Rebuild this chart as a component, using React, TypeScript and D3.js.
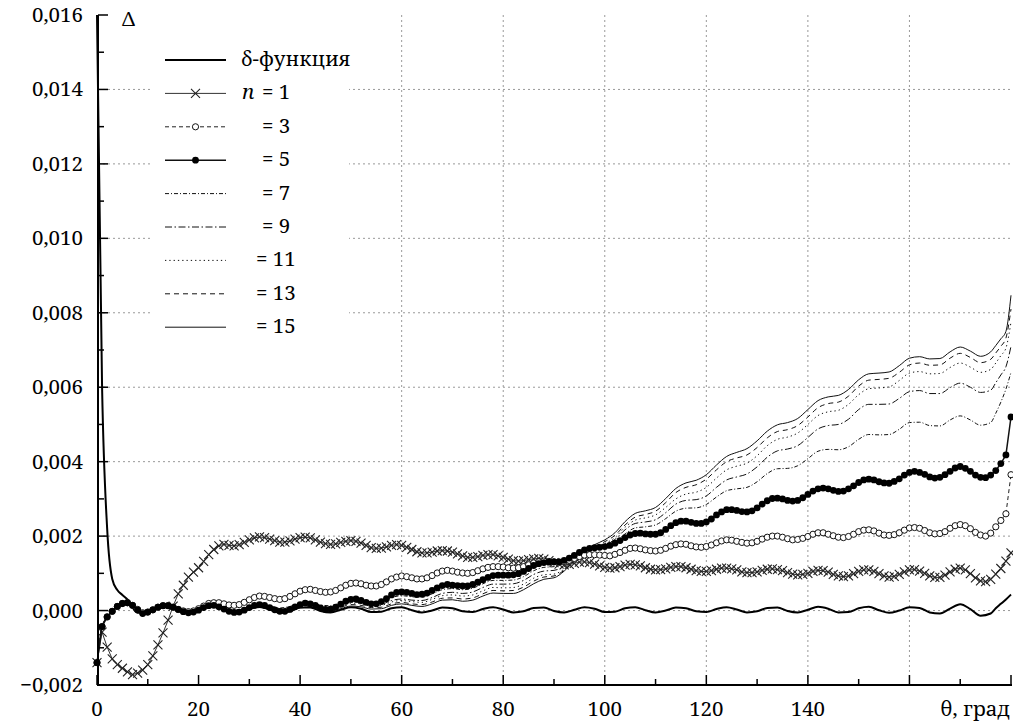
import React from 'react'
import * as d3 from 'd3'

const width = 1013
const height = 727

// θ in degrees, one point per degree (series drawn with markers)
const thetaFine = [
  0, 1, 2, 3, 4, 5, 6, 7, 8, 9, 10, 11, 12, 13, 14, 15, 16, 17, 18, 19,
  20, 21, 22, 23, 24, 25, 26, 27, 28, 29, 30, 31, 32, 33, 34, 35, 36, 37, 38, 39,
  40, 41, 42, 43, 44, 45, 46, 47, 48, 49, 50, 51, 52, 53, 54, 55, 56, 57, 58, 59,
  60, 61, 62, 63, 64, 65, 66, 67, 68, 69, 70, 71, 72, 73, 74, 75, 76, 77, 78, 79,
  80, 81, 82, 83, 84, 85, 86, 87, 88, 89, 90, 91, 92, 93, 94, 95, 96, 97, 98, 99,
  100, 101, 102, 103, 104, 105, 106, 107, 108, 109, 110, 111, 112, 113, 114, 115, 116, 117, 118, 119,
  120, 121, 122, 123, 124, 125, 126, 127, 128, 129, 130, 131, 132, 133, 134, 135, 136, 137, 138, 139,
  140, 141, 142, 143, 144, 145, 146, 147, 148, 149, 150, 151, 152, 153, 154, 155, 156, 157, 158, 159,
  160, 161, 162, 163, 164, 165, 166, 167, 168, 169, 170, 171, 172, 173, 174, 175, 176, 177, 178, 179,
  180,
]

// Δ values in units of 0.001
const n1 = [
  -1.40, -0.58, -0.98, -1.30, -1.45, -1.55, -1.65, -1.72, -1.68, -1.60, -1.45, -1.22, -0.92, -0.60, -0.26, 0.12, 0.45, 0.68, 0.90, 1.03,
  1.15, 1.32, 1.50, 1.64, 1.74, 1.78, 1.75, 1.74, 1.77, 1.83, 1.90, 1.95, 1.98, 1.96, 1.92, 1.88, 1.84, 1.84, 1.87, 1.92,
  1.96, 1.97, 1.95, 1.90, 1.84, 1.80, 1.78, 1.79, 1.83, 1.86, 1.88, 1.86, 1.81, 1.75, 1.69, 1.67, 1.68, 1.71, 1.75, 1.77,
  1.75, 1.70, 1.64, 1.58, 1.55, 1.55, 1.57, 1.60, 1.61, 1.60, 1.57, 1.52, 1.47, 1.43, 1.43, 1.45, 1.48, 1.50, 1.50, 1.47,
  1.43, 1.38, 1.34, 1.33, 1.34, 1.37, 1.39, 1.40, 1.38, 1.34, 1.29, 1.25, 1.23, 1.24, 1.27, 1.30, 1.31, 1.29, 1.25, 1.20,
  1.16, 1.14, 1.15, 1.18, 1.22, 1.24, 1.23, 1.20, 1.15, 1.11, 1.09, 1.10, 1.12, 1.16, 1.18, 1.18, 1.15, 1.11, 1.07, 1.05,
  1.05, 1.07, 1.11, 1.14, 1.14, 1.12, 1.09, 1.04, 1.02, 1.02, 1.04, 1.08, 1.11, 1.12, 1.10, 1.07, 1.02, 0.98, 0.96, 0.97,
  1.00, 1.05, 1.08, 1.07, 1.03, 0.97, 0.93, 0.91, 0.93, 0.99, 1.05, 1.09, 1.09, 1.05, 0.99, 0.93, 0.90, 0.92, 0.97, 1.04,
  1.09, 1.10, 1.06, 1.00, 0.93, 0.89, 0.89, 0.95, 1.04, 1.11, 1.14, 1.09, 0.99, 0.88, 0.80, 0.78, 0.84, 0.98, 1.13, 1.33,
  1.55,
]

const n3 = [
  -1.40, -0.43, -0.17, -0.02, 0.11, 0.19, 0.21, 0.14, 0.03, -0.06, -0.04, 0.02, 0.09, 0.13, 0.13, 0.09, 0.03, -0.01, -0.03, -0.01,
  0.05, 0.12, 0.19, 0.21, 0.21, 0.18, 0.15, 0.14, 0.16, 0.22, 0.29, 0.35, 0.39, 0.38, 0.35, 0.32, 0.30, 0.32, 0.38, 0.45,
  0.52, 0.56, 0.57, 0.54, 0.51, 0.49, 0.50, 0.54, 0.61, 0.68, 0.73, 0.74, 0.72, 0.68, 0.66, 0.66, 0.70, 0.77, 0.85, 0.90,
  0.93, 0.91, 0.88, 0.85, 0.85, 0.88, 0.94, 1.01, 1.06, 1.08, 1.06, 1.03, 1.01, 1.00, 1.02, 1.07, 1.12, 1.16, 1.18, 1.18,
  1.17, 1.15, 1.14, 1.15, 1.18, 1.23, 1.28, 1.31, 1.33, 1.32, 1.31, 1.30, 1.32, 1.35, 1.40, 1.45, 1.49, 1.50, 1.50, 1.49,
  1.48, 1.47, 1.51, 1.56, 1.62, 1.67, 1.68, 1.66, 1.63, 1.61, 1.60, 1.62, 1.67, 1.73, 1.77, 1.79, 1.78, 1.74, 1.71, 1.70,
  1.72, 1.76, 1.82, 1.87, 1.90, 1.89, 1.86, 1.83, 1.81, 1.82, 1.86, 1.92, 1.97, 2.00, 2.00, 1.97, 1.93, 1.90, 1.91, 1.94,
  1.99, 2.05, 2.09, 2.09, 2.05, 2.01, 1.97, 1.96, 1.99, 2.05, 2.12, 2.16, 2.17, 2.14, 2.08, 2.03, 2.02, 2.04, 2.09, 2.16,
  2.22, 2.23, 2.21, 2.15, 2.09, 2.06, 2.07, 2.12, 2.21, 2.28, 2.31, 2.28, 2.20, 2.10, 2.03, 2.00, 2.08, 2.25, 2.42, 2.60,
  3.65,
]

const n5 = [
  -1.40, -0.43, -0.17, -0.02, 0.11, 0.19, 0.21, 0.14, 0.02, -0.08, -0.04, 0.02, 0.09, 0.13, 0.13, 0.09, 0.03, -0.03, -0.06, -0.04,
  0.01, 0.08, 0.13, 0.14, 0.10, 0.04, -0.02, -0.05, -0.04, 0.01, 0.08, 0.14, 0.16, 0.14, 0.08, 0.02, -0.02, -0.02, 0.03, 0.10,
  0.16, 0.20, 0.18, 0.14, 0.07, 0.03, 0.04, 0.09, 0.17, 0.25, 0.30, 0.31, 0.27, 0.22, 0.18, 0.18, 0.24, 0.32, 0.42, 0.49,
  0.50, 0.49, 0.46, 0.43, 0.44, 0.47, 0.54, 0.61, 0.67, 0.70, 0.68, 0.67, 0.66, 0.66, 0.70, 0.76, 0.83, 0.89, 0.94, 0.95,
  0.95, 0.95, 0.96, 0.99, 1.05, 1.13, 1.21, 1.26, 1.29, 1.30, 1.31, 1.31, 1.35, 1.41, 1.48, 1.56, 1.63, 1.67, 1.69, 1.70,
  1.72, 1.75, 1.81, 1.88, 1.96, 2.03, 2.07, 2.08, 2.06, 2.05, 2.05, 2.09, 2.18, 2.28, 2.36, 2.40, 2.40, 2.37, 2.34, 2.34,
  2.38, 2.46, 2.57, 2.65, 2.71, 2.71, 2.69, 2.66, 2.65, 2.68, 2.76, 2.86, 2.95, 3.01, 3.02, 3.00, 2.96, 2.94, 2.96, 3.03,
  3.12, 3.21, 3.27, 3.29, 3.27, 3.23, 3.20, 3.21, 3.27, 3.35, 3.44, 3.51, 3.53, 3.51, 3.46, 3.43, 3.42, 3.47, 3.54, 3.64,
  3.71, 3.74, 3.71, 3.66, 3.59, 3.56, 3.58, 3.65, 3.74, 3.83, 3.87, 3.82, 3.74, 3.64, 3.58, 3.57, 3.64, 3.76, 3.95, 4.18,
  5.20,
]

// θ for the plain-line series
const thetaCoarse = [
  0, 1, 2, 3, 4, 5, 6,
  8, 10, 12, 14, 16, 18, 20, 22, 24, 26,
  28, 30, 32, 34, 36, 38, 40, 42, 44, 46,
  48, 50, 52, 54, 56, 58, 60, 62, 64, 66,
  68, 70, 72, 74, 76, 78, 80, 82, 84, 86,
  88, 90, 92, 94, 96, 98, 100, 102, 104, 106,
  108, 110, 112, 114, 116, 118, 120, 122, 124, 126,
  128, 130, 132, 134, 136, 138, 140, 142, 144, 146,
  148, 150, 152, 154, 156, 158, 160, 162, 164, 166,
  168, 170, 172, 174, 176,
  177, 178, 179, 180,
]

const deltaFn = [
  16.0, 6.0, 2.2, 0.85, 0.55, 0.42, 0.30,
  -0.06, -0.05, 0.07, 0.11, 0.01, -0.08, -0.01, 0.11, 0.08, -0.04,
  -0.06, 0.04, 0.10, 0.03, -0.06, -0.02, 0.08, 0.08, -0.01, -0.05,
  0.02, 0.09, 0.05, -0.04, -0.03, 0.06, 0.09, 0.01, -0.05, 0.00,
  0.08, 0.06, -0.02, -0.04, 0.04, 0.09, 0.03, -0.05, -0.02, 0.07,
  0.08, -0.01, -0.05, 0.02, 0.09, 0.05, -0.04, -0.03, 0.06, 0.09,
  0.01, -0.05, 0.00, 0.08, 0.06, -0.02, -0.04, 0.04, 0.09, 0.03,
  -0.05, -0.02, 0.07, 0.08, -0.01, -0.05, 0.02, 0.10, 0.05, -0.05,
  -0.04, 0.06, 0.10, 0.01, -0.06, 0.00, 0.09, 0.07, -0.05, -0.08,
  0.05, 0.17, 0.04, -0.14, -0.08,
  0.06, 0.18, 0.30, 0.43,
]

const n7 = [
  -1.40, -0.43, -0.17, -0.02, 0.11, 0.19, 0.21,
  -0.03, -0.02, 0.09, 0.12, 0.04, -0.02, 0.04, 0.14, 0.13, 0.03,
  0.02, 0.12, 0.17, 0.13, 0.07, 0.11, 0.19, 0.21, 0.15, 0.13,
  0.21, 0.28, 0.27, 0.22, 0.25, 0.35, 0.40, 0.37, 0.36, 0.45,
  0.56, 0.59, 0.56, 0.60, 0.72, 0.81, 0.81, 0.82, 0.91, 1.07,
  1.16, 1.18, 1.26, 1.44, 1.62, 1.69, 1.73, 1.84, 2.06, 2.22,
  2.25, 2.30, 2.47, 2.67, 2.75, 2.76, 2.85, 3.05, 3.22, 3.27,
  3.31, 3.46, 3.68, 3.81, 3.82, 3.89, 4.08, 4.28, 4.33, 4.32,
  4.40, 4.60, 4.73, 4.72, 4.73, 4.87, 5.05, 5.06, 4.97, 4.96,
  5.12, 5.23, 5.12, 4.98, 5.05,
  5.30, 5.60, 5.95, 6.40,
]

const n9 = [
  -1.40, -0.43, -0.17, -0.02, 0.11, 0.19, 0.21,
  -0.04, -0.03, 0.08, 0.11, 0.03, -0.03, 0.03, 0.13, 0.11, 0.02,
  0.00, 0.10, 0.15, 0.10, 0.05, 0.08, 0.16, 0.18, 0.12, 0.09,
  0.16, 0.23, 0.21, 0.15, 0.17, 0.27, 0.31, 0.28, 0.27, 0.35,
  0.46, 0.49, 0.46, 0.50, 0.62, 0.71, 0.71, 0.72, 0.81, 0.97,
  1.06, 1.08, 1.18, 1.38, 1.58, 1.70, 1.77, 1.91, 2.17, 2.34,
  2.38, 2.44, 2.63, 2.86, 2.96, 2.98, 3.08, 3.31, 3.51, 3.59,
  3.67, 3.86, 4.12, 4.29, 4.34, 4.43, 4.65, 4.88, 4.97, 5.00,
  5.14, 5.40, 5.54, 5.54, 5.55, 5.70, 5.88, 5.91, 5.83, 5.83,
  5.99, 6.11, 6.00, 5.86, 5.92,
  6.12, 6.33, 6.55, 7.10,
]

const n11 = [
  -1.40, -0.43, -0.17, -0.02, 0.11, 0.19, 0.21,
  -0.04, -0.03, 0.07, 0.11, 0.03, -0.04, 0.02, 0.12, 0.10, 0.00,
  -0.02, 0.08, 0.13, 0.08, 0.02, 0.05, 0.13, 0.15, 0.09, 0.06,
  0.13, 0.20, 0.18, 0.12, 0.14, 0.23, 0.27, 0.24, 0.22, 0.30,
  0.40, 0.42, 0.39, 0.42, 0.53, 0.62, 0.61, 0.62, 0.71, 0.87,
  0.96, 0.98, 1.11, 1.34, 1.57, 1.70, 1.80, 1.96, 2.24, 2.43,
  2.49, 2.57, 2.77, 3.00, 3.13, 3.18, 3.31, 3.56, 3.78, 3.88,
  3.96, 4.16, 4.43, 4.60, 4.66, 4.77, 5.00, 5.24, 5.34, 5.38,
  5.54, 5.80, 5.96, 5.98, 6.01, 6.18, 6.38, 6.42, 6.36, 6.37,
  6.53, 6.65, 6.54, 6.40, 6.48,
  6.65, 6.85, 7.05, 7.75,
]

const n13 = [
  -1.40, -0.43, -0.17, -0.02, 0.11, 0.19, 0.21,
  -0.05, -0.04, 0.06, 0.10, 0.02, -0.05, 0.01, 0.10, 0.08, -0.01,
  -0.03, 0.06, 0.10, 0.06, 0.00, 0.03, 0.10, 0.12, 0.05, 0.03,
  0.09, 0.16, 0.14, 0.08, 0.09, 0.18, 0.22, 0.18, 0.16, 0.23,
  0.33, 0.34, 0.31, 0.34, 0.45, 0.54, 0.53, 0.54, 0.63, 0.79,
  0.90, 0.93, 1.08, 1.33, 1.58, 1.73, 1.85, 2.02, 2.30, 2.51,
  2.58, 2.67, 2.90, 3.17, 3.31, 3.38, 3.53, 3.78, 4.00, 4.10,
  4.18, 4.38, 4.64, 4.81, 4.86, 4.97, 5.20, 5.45, 5.56, 5.60,
  5.76, 6.03, 6.19, 6.21, 6.24, 6.40, 6.60, 6.65, 6.59, 6.60,
  6.78, 6.91, 6.80, 6.66, 6.75,
  6.92, 7.10, 7.32, 8.10,
]

const n15 = [
  -1.40, -0.43, -0.17, -0.02, 0.11, 0.19, 0.21,
  -0.05, -0.04, 0.06, 0.10, 0.01, -0.06, 0.00, 0.09, 0.07, -0.03,
  -0.05, 0.04, 0.08, 0.03, -0.03, 0.00, 0.07, 0.09, 0.02, -0.01,
  0.05, 0.12, 0.10, 0.04, 0.05, 0.14, 0.18, 0.14, 0.11, 0.18,
  0.28, 0.29, 0.25, 0.28, 0.39, 0.47, 0.46, 0.46, 0.56, 0.72,
  0.84, 0.88, 1.06, 1.34, 1.61, 1.77, 1.90, 2.09, 2.39, 2.61,
  2.68, 2.77, 3.01, 3.28, 3.43, 3.50, 3.65, 3.91, 4.14, 4.25,
  4.35, 4.56, 4.82, 4.99, 5.05, 5.16, 5.40, 5.64, 5.74, 5.78,
  5.94, 6.20, 6.36, 6.38, 6.41, 6.58, 6.78, 6.82, 6.76, 6.77,
  6.95, 7.08, 6.97, 6.83, 6.95,
  7.12, 7.30, 7.50, 8.47,
]

const yTickValues = [-2, 0, 2, 4, 6, 8, 10, 12, 14, 16]
const yMinorTicks = [-1, 1, 3, 5, 7, 9, 11, 13, 15]
const yGridValues = [0, 2, 4, 6, 8, 10, 12, 14]
const xTickLabels = [0, 20, 40, 60, 80, 100, 120, 140]
const xMajorTicks = [0, 20, 40, 60, 80, 100, 120, 140, 160, 180]
const xMinorTicks = [10, 30, 50, 70, 90, 110, 130, 150, 170]
const xGridValues = [60, 80, 100, 120, 140, 160]
const xTitle = 'θ, град'
const yTitle = 'Δ'
const legendLabels = ['δ-функция', '1', '3', '5', '7', '9', '11', '13', '15']

const font = 'Noto Serif'
const fs = 20.5

const x = d3.scaleLinear().domain([0, 180]).range([97, 1011])
const y = d3.scaleLinear().domain([-2, 16]).range([685, 15])

const fineLine = d3.line<number>()
  .x((_, i) => x(thetaFine[i]))
  .y(d => y(d))

const coarseLine = d3.line<number>()
  .x((_, i) => x(thetaCoarse[i]))
  .y(d => y(d))
  .curve(d3.curveMonotoneX)

const fmt = (v: number) => (v < 0 ? '−' : '') + Math.abs(v / 1000).toFixed(3).replace('.', ',')

type LineStyle = { stroke: string, width: number, dash?: string }

// legend order: δ, 1, 3, 5, 7, 9, 11, 13, 15
const lineStyles: LineStyle[] = [
  { stroke: '#000', width: 2 },
  { stroke: '#333', width: 1 },
  { stroke: '#222', width: 1, dash: '4,3' },
  { stroke: '#111', width: 1.5 },
  { stroke: '#111', width: 1, dash: '4,2,1,2' },
  { stroke: '#111', width: 1, dash: '7,2.5,1.5,2.5' },
  { stroke: '#111', width: 1, dash: '1.3,3' },
  { stroke: '#111', width: 1, dash: '5,4' },
  { stroke: '#111', width: 1 },
]

const Cross = ({ cx, cy }: { cx: number, cy: number }) => (
  <path d={`M${cx - 4.5},${cy - 4.5}L${cx + 4.5},${cy + 4.5}M${cx - 4.5},${cy + 4.5}L${cx + 4.5},${cy - 4.5}`}
    stroke="#222" strokeWidth={1.1} fill="none" />
)

const OpenDot = ({ cx, cy }: { cx: number, cy: number }) => (
  <circle cx={cx} cy={cy} r={3.1} fill="#fff" stroke="#111" strokeWidth={1} />
)

const FilledDot = ({ cx, cy }: { cx: number, cy: number }) => (
  <circle cx={cx} cy={cy} r={3.4} fill="#000" />
)

const pathProps = (s: LineStyle) => ({
  fill: 'none',
  stroke: s.stroke,
  strokeWidth: s.width,
  strokeDasharray: s.dash,
  strokeLinejoin: 'round' as const,
})

function Legend() {
  const x0 = 165, x1 = 226, top = 60, step = 33.4
  return (
    <g>
      <rect x={150} y={40} width={199} height={303} fill="#fff" />
      {legendLabels.map((label, i) => {
        const ry = top + i * step
        const s = lineStyles[i]
        const mid = (x0 + x1) / 2
        return (
          <g key={label}>
            <line x1={x0} x2={x1} y1={ry} y2={ry} {...pathProps(s)} />
            {i === 1 && <Cross cx={mid} cy={ry} />}
            {i === 2 && <OpenDot cx={mid} cy={ry} />}
            {i === 3 && <FilledDot cx={mid} cy={ry} />}
            {i === 0 && <text x={241} y={ry + 6} fontSize={fs} fontFamily={font}>{label}</text>}
            {i === 1 && <text x={242} y={ry + 6} fontSize={fs} fontFamily={font} fontStyle="italic">n</text>}
            {i > 0 && (
              <text x={label.length > 1 ? 256 : 262} y={ry + 6} fontSize={fs} fontFamily={font}>
                {'= ' + label}
              </text>
            )}
          </g>
        )
      })}
    </g>
  )
}

export default function App() {
  const fan = [n7, n9, n11, n13, n15]
  return (
    <svg width={width} height={height} style={{ position: 'absolute', left: 0, top: 0, background: '#fff' }}>
      {/* grid */}
      <g stroke="#999" strokeWidth={1} strokeDasharray="2,3">
        {yGridValues.map(v => (
          <line key={'gy' + v} x1={98} x2={1012} y1={y(v)} y2={y(v)} />
        ))}
        {xGridValues.map(v => (
          <line key={'gx' + v} x1={x(v)} x2={x(v)} y1={15} y2={685} />
        ))}
      </g>

      <Legend />

      {/* plain lines */}
      {fan.map((series, i) => (
        <path key={'fan' + i} d={coarseLine(series) || ''} {...pathProps(lineStyles[i + 4])} />
      ))}
      <path d={coarseLine(deltaFn) || ''} {...pathProps(lineStyles[0])} />

      {/* n = 1 */}
      <path d={fineLine(n1) || ''} {...pathProps(lineStyles[1])} />
      {n1.map((v, i) => <Cross key={'c' + i} cx={x(thetaFine[i])} cy={y(v)} />)}

      {/* n = 3 */}
      <path d={fineLine(n3) || ''} {...pathProps(lineStyles[2])} />
      {n3.map((v, i) => <OpenDot key={'o' + i} cx={x(thetaFine[i])} cy={y(v)} />)}

      {/* n = 5 */}
      <path d={fineLine(n5) || ''} {...pathProps(lineStyles[3])} />
      {n5.map((v, i) => <FilledDot key={'f' + i} cx={x(thetaFine[i])} cy={y(v)} />)}

      {/* axes */}
      <line x1={98} x2={98} y1={15} y2={686} stroke="#000" strokeWidth={2} />
      <line x1={97} x2={1012} y1={685} y2={685} stroke="#000" strokeWidth={2} />
      {yTickValues.map(v => (
        <g key={'yt' + v}>
          <line x1={98} x2={108} y1={y(v)} y2={y(v)} stroke="#000" strokeWidth={1.5} />
          <text x={83} y={y(v) + 7} textAnchor="end" fontSize={fs} fontFamily={font}>{fmt(v)}</text>
        </g>
      ))}
      {yMinorTicks.map(v => (
        <line key={'ym' + v} x1={98} x2={104} y1={y(v)} y2={y(v)} stroke="#000" strokeWidth={1.5} />
      ))}
      {xMajorTicks.map(v => (
        <line key={'xt' + v} x1={x(v)} x2={x(v)} y1={685} y2={675} stroke="#000" strokeWidth={1.5} />
      ))}
      {xMinorTicks.map(v => (
        <line key={'xm' + v} x1={x(v)} x2={x(v)} y1={685} y2={679} stroke="#000" strokeWidth={1.5} />
      ))}
      {xTickLabels.map(v => (
        <text key={'xl' + v} x={x(v)} y={716} textAnchor="middle" fontSize={fs} fontFamily={font}>{v}</text>
      ))}
      <text x={1010} y={716} textAnchor="end" fontSize={fs} fontFamily={font}>{xTitle}</text>
      <text x={122} y={26} fontSize={fs} fontFamily={font}>{yTitle}</text>
    </svg>
  )
}
